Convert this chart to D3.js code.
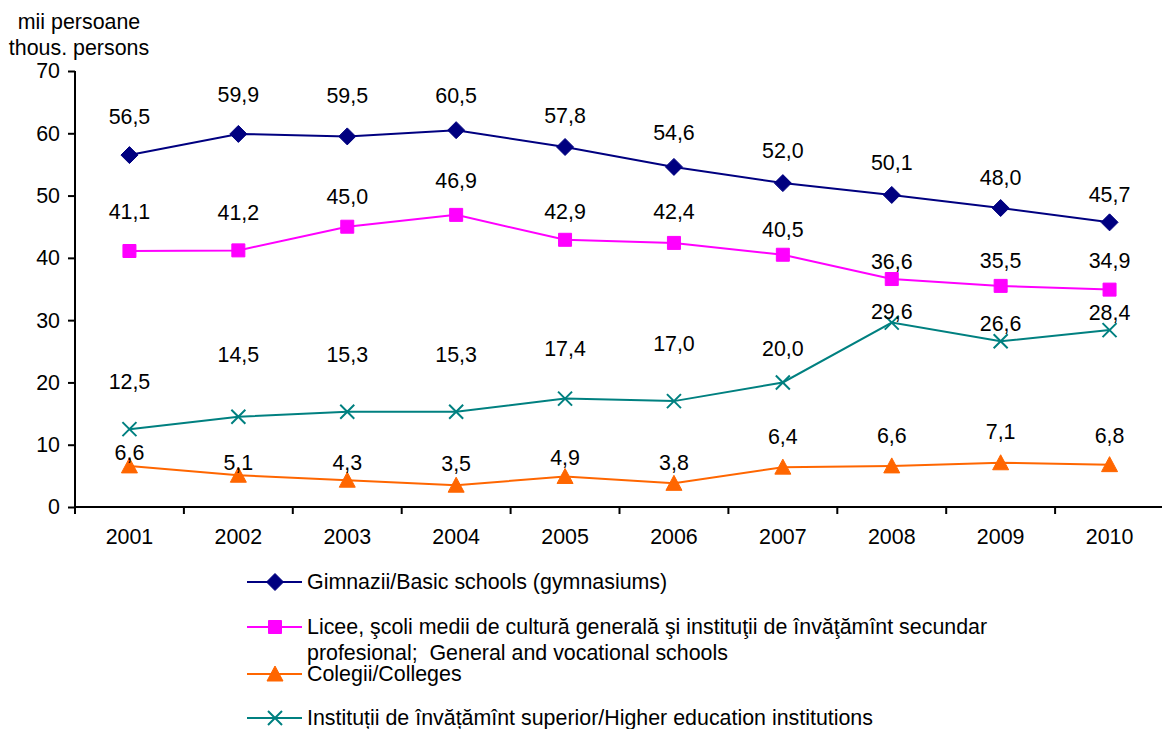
<!DOCTYPE html>
<html><head><meta charset="utf-8">
<script src="https://cdn.jsdelivr.net/npm/d3@7"></script>
<style>
html,body{margin:0;padding:0;background:#fff;}
text{font-family:"Liberation Sans",Arial,sans-serif;fill:#000;white-space:pre;}
</style></head>
<body>
<svg id="c" width="1162" height="729"></svg>
<script>
// ---- data ----
const years = ["2001","2002","2003","2004","2005","2006","2007","2008","2009","2010"];
const gimnazii = [56.5,59.9,59.5,60.5,57.8,54.6,52.0,50.1,48.0,45.7];
const licee    = [41.1,41.2,45.0,46.9,42.9,42.4,40.5,36.6,35.5,34.9];
const colegii  = [6.6,5.1,4.3,3.5,4.9,3.8,6.4,6.6,7.1,6.8];
const superior = [12.5,14.5,15.3,15.3,17.4,17.0,20.0,29.6,26.6,28.4];
const yTicks = [0,10,20,30,40,50,60,70];
const seriesNames = [
  ["Gimnazii/Basic schools (gymnasiums)"],
  ["Licee, şcoli medii de cultură generală şi instituţii de învăţămînt secundar","profesional;  General and vocational schools"],
  ["Colegii/Colleges"],
  ["Instituții de învățămînt superior/Higher education institutions"]
];
const yTitle = ["mii persoane","thous. persons"];

// label vertical offsets (pixels), mimicking reference placement
const labelDy = {
  gim: [-39,-39,-41,-35,-31,-34,-33,-32,-31,-28],
  lic: [-39,-38,-30,-34,-28,-31,-25,-18,-25,-29],
  col: [-13,-13,-18,-22,-19,-21,-31,-30,-31,-29],
  sup: [-48,-62,-57,-57,-50,-58,-34,-11,-18,-18]
};

(function(){
const FS = 21.4;
const svg = d3.select("#c");
const mLeft = 75, mRight = 1164, mTop = 71, mBottom = 507;
const x = d3.scaleBand().domain(years).range([mLeft, mRight]);
const y = d3.scaleLinear().domain([0,70]).range([mBottom, mTop]);

const fmt = v => d3.format(".1f")(v).replace(".", ",");

// y axis
const yAxis = svg.append("g").attr("transform",`translate(${mLeft},0)`)
  .call(d3.axisLeft(y).tickValues(yTicks).tickSize(7).tickPadding(8).tickFormat(d3.format("d")));
yAxis.select(".domain").attr("stroke","#000").attr("stroke-width",2).attr("d",`M0,${mTop}V${mBottom}`);
yAxis.selectAll(".tick line").attr("stroke","#000").attr("stroke-width",2);
yAxis.selectAll(".tick text").attr("font-size",FS).style("font-family","Liberation Sans, Arial, sans-serif");

// x axis
const xAxis = svg.append("g").attr("transform",`translate(0,${mBottom})`)
  .call(d3.axisBottom(x).tickSize(0).tickPadding(22));
xAxis.select(".domain").attr("stroke","#000").attr("stroke-width",2).attr("d",`M${mLeft},0H${mRight}`);
xAxis.selectAll(".tick text").attr("font-size",FS).style("font-family","Liberation Sans, Arial, sans-serif");
const bounds = years.map(d => x(d)).concat([mRight]);
xAxis.selectAll(".bt").data(bounds).enter().append("line")
  .attr("x1",d=>d).attr("x2",d=>d).attr("y1",0).attr("y2",7)
  .attr("stroke","#000").attr("stroke-width",2);

// y title
svg.append("g").selectAll("text").data(yTitle).enter().append("text")
  .attr("x",79).attr("y",(d,i)=>22+i*26).attr("dy","0.35em").attr("text-anchor","middle").attr("font-size",FS).text(d=>d);

const cx = d => x(d) + x.bandwidth()/2;

function markerPath(type){
  if(type==="diamond") return "M0,-8.5L8.5,0L0,8.5L-8.5,0Z";
  if(type==="square") return "M-6.5,-6.5H6.5V6.5H-6.5Z";
  if(type==="triangle") return "M0,-8L8,7H-8Z";
  return null;
}

const series = [
  {key:"gim", vals:gimnazii, color:"#000080", marker:"diamond"},
  {key:"lic", vals:licee, color:"#FF00FF", marker:"square"},
  {key:"sup", vals:superior, color:"#008080", marker:"x"},
  {key:"col", vals:colegii, color:"#FF6600", marker:"triangle"}
];

const line = d3.line().x((d,i)=>cx(years[i])).y(d=>y(d));

function drawMarker(g, s, px, py){
  if(s.marker==="x"){
    const r=7;
    g.append("path").attr("d",`M${px-r},${py-r}L${px+r},${py+r}M${px-r},${py+r}L${px+r},${py-r}`)
      .attr("stroke",s.color).attr("stroke-width",2).attr("fill","none");
  } else {
    g.append("path").attr("d",markerPath(s.marker))
      .attr("transform",`translate(${px},${py})`).attr("fill",s.color).attr("stroke",s.color).attr("stroke-width",1);
  }
}

series.forEach(s=>{
  const g = svg.append("g");
  g.append("path").datum(s.vals).attr("d",line).attr("fill","none").attr("stroke",s.color).attr("stroke-width",2);
  s.vals.forEach((v,i)=>drawMarker(g,s,cx(years[i]),y(v)));
  g.selectAll("text").data(s.vals).enter().append("text")
    .attr("x",(d,i)=>cx(years[i])).attr("y",(d,i)=>y(d)+labelDy[s.key][i])
    .attr("dy","0.35em").attr("text-anchor","middle").attr("font-size",FS).text(d=>fmt(d));
});

// legend
const legendOrder = [series[0], series[1], series[3], series[2]];
const legendY = [582, 627, 674, 718];
legendOrder.forEach((s,i)=>{
  const g = svg.append("g");
  const ly = legendY[i];
  g.append("line").attr("x1",247).attr("x2",302).attr("y1",ly).attr("y2",ly).attr("stroke",s.color).attr("stroke-width",2);
  drawMarker(g,s,275,ly);
  seriesNames[i].forEach((t,j)=>{
    g.append("text").attr("x",307).attr("y",ly+j*26).attr("dy","0.35em").attr("font-size",FS).text(t);
  });
});
})();
</script>
</body></html>
